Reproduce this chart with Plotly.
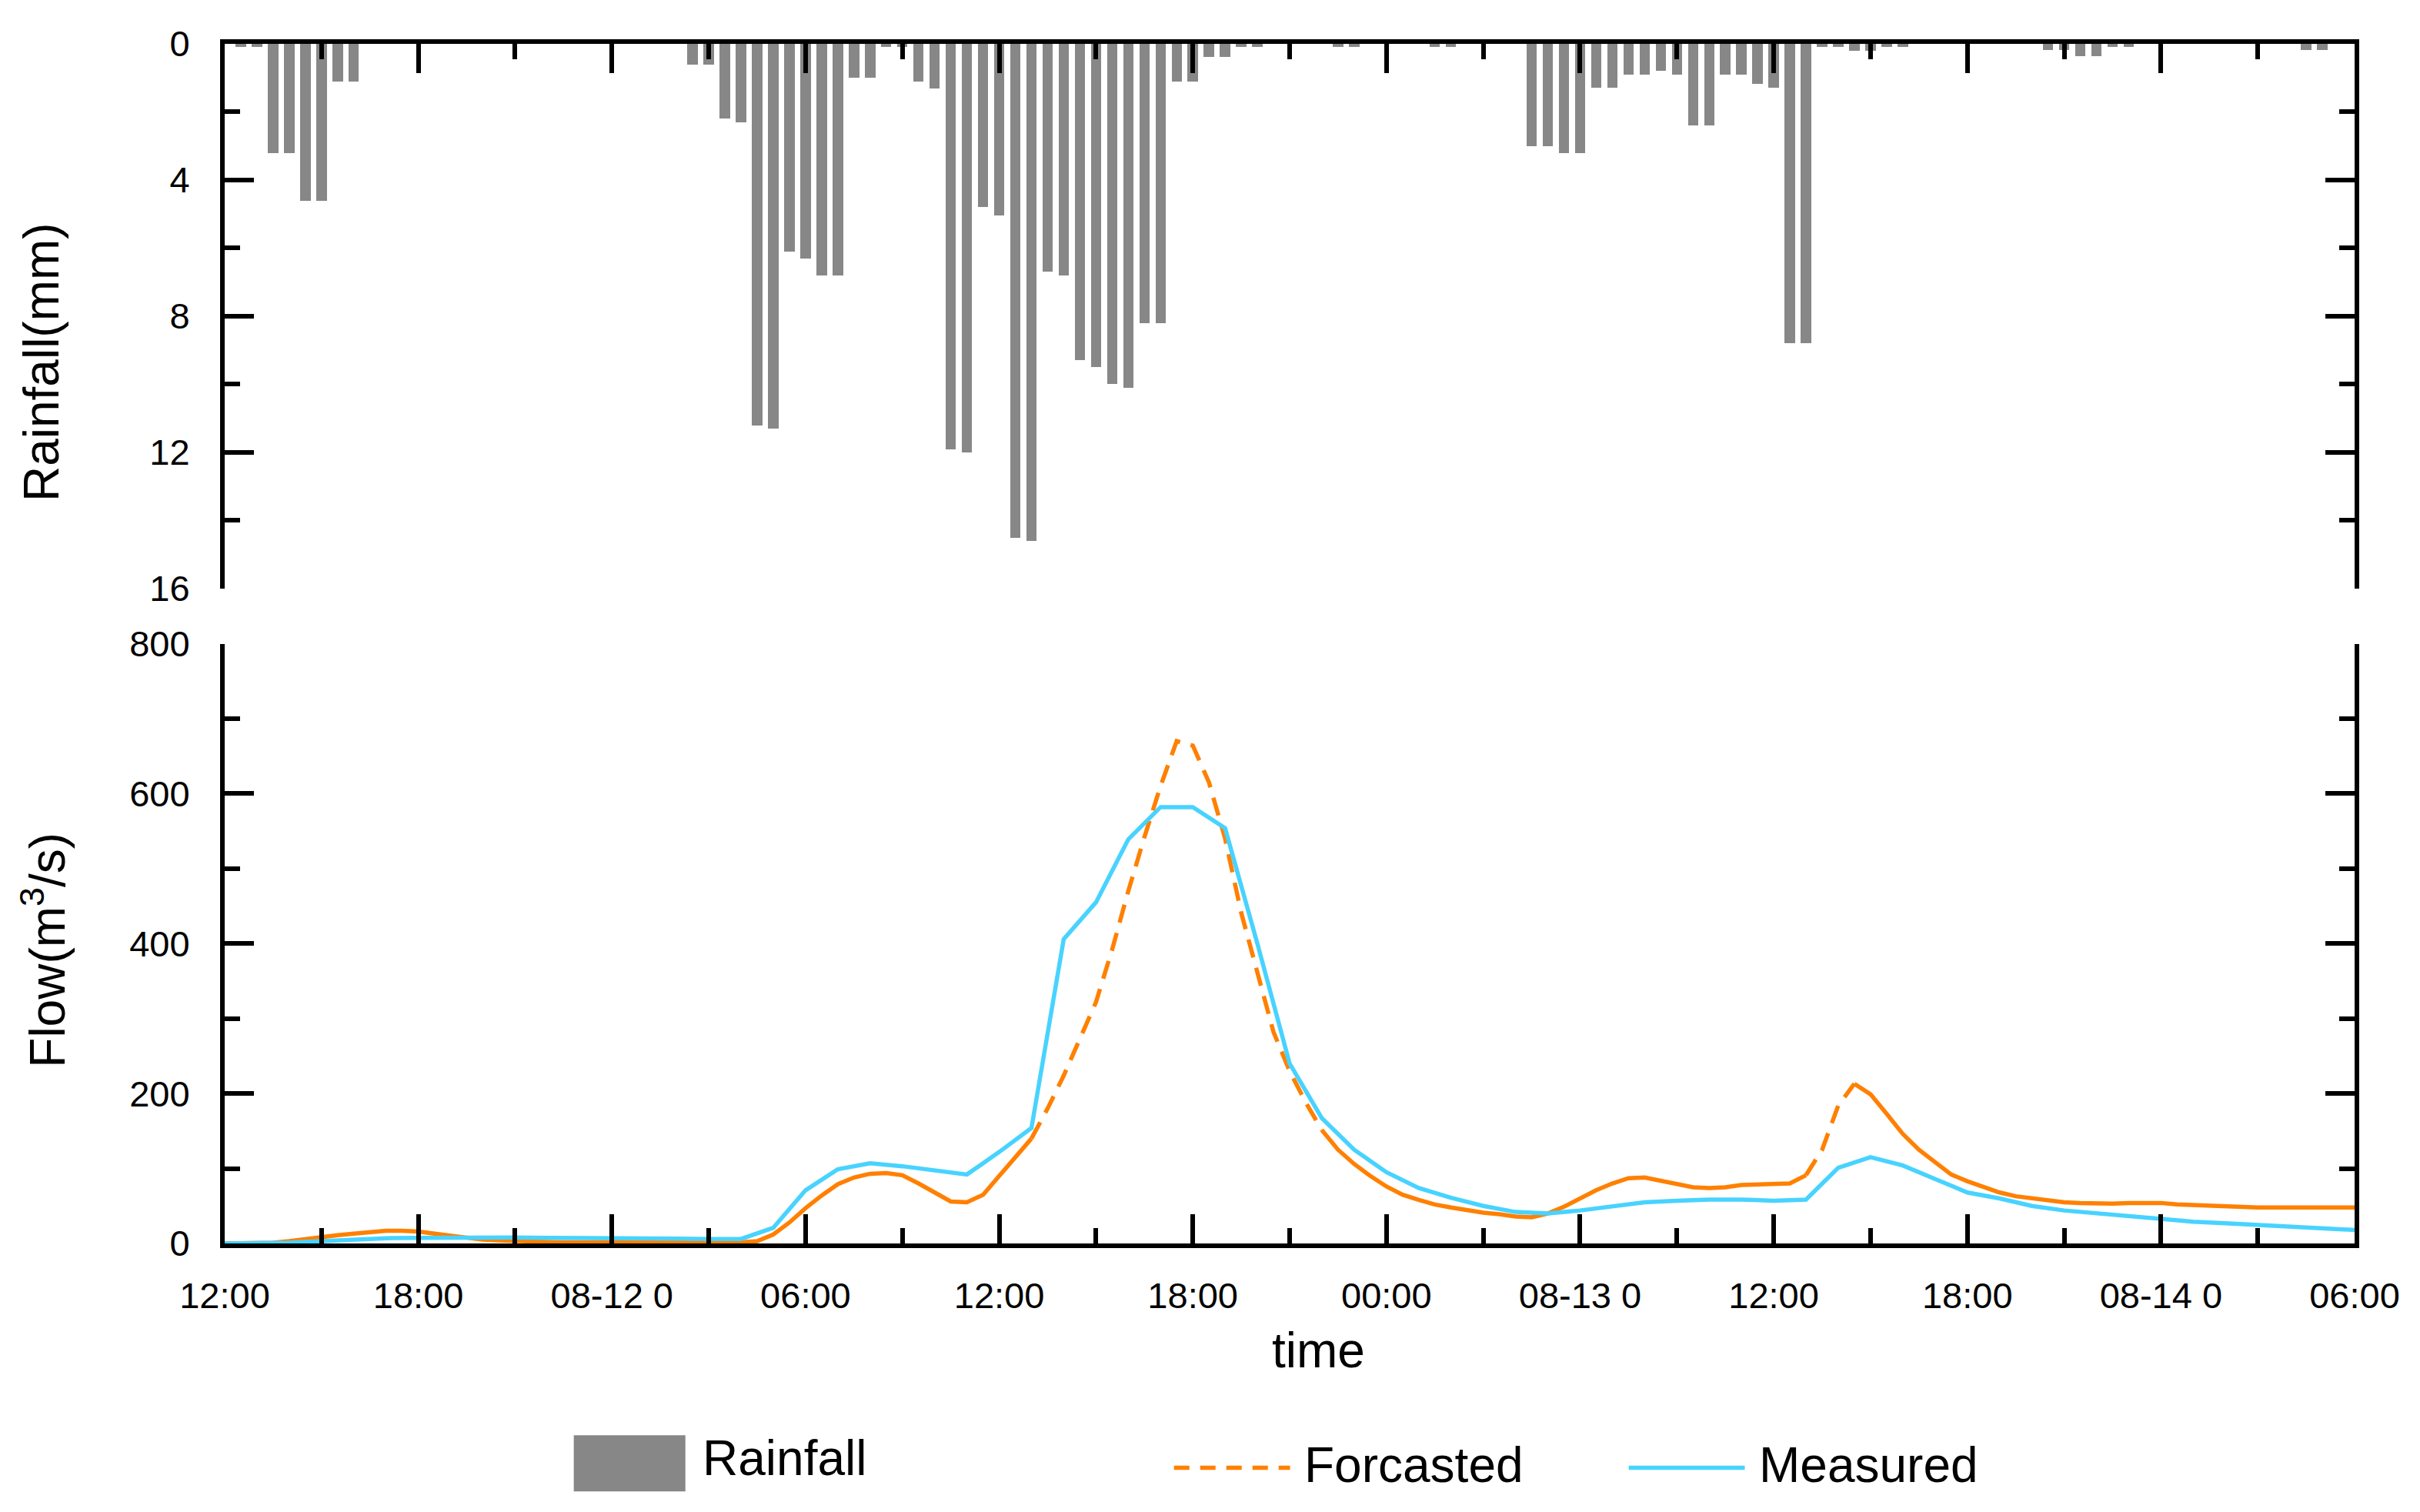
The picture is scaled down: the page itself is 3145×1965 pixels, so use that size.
import numpy as np
import pandas as pd
import plotly.graph_objects as go

# half-hourly rainfall (mm), 08-11 12:30 ... 08-14 06:00 (one row = 6 hours)
rain_mm = [
    0.1, 0.1, 3.2, 3.2, 4.6, 4.6, 1.1, 1.1, 0, 0, 0, 0,
    0, 0, 0, 0, 0, 0, 0, 0, 0, 0, 0, 0,
    0, 0, 0, 0, 0.6, 0.6, 2.2, 2.3, 11.2, 11.3, 6.1, 6.3,
    6.8, 6.8, 1.0, 1.0, 0.1, 0.1, 1.1, 1.3, 11.9, 12.0, 4.8, 5.05,
    14.5, 14.6, 6.7, 6.8, 9.3, 9.5, 10.0, 10.1, 8.2, 8.2, 1.1, 1.1,
    0.38, 0.38, 0.1, 0.1, 0, 0, 0, 0, 0.1, 0.1, 0, 0,
    0, 0, 0.1, 0.1, 0, 0, 0, 0, 3.0, 3.0, 3.2, 3.2,
    1.28, 1.28, 0.9, 0.9, 0.8, 0.9, 2.4, 2.4, 0.9, 0.9, 1.18, 1.29,
    8.8, 8.8, 0.1, 0.1, 0.2, 0.2, 0.1, 0.1, 0, 0, 0, 0,
    0, 0, 0, 0, 0.17, 0.17, 0.37, 0.37, 0.09, 0.09, 0, 0,
    0, 0, 0, 0, 0, 0, 0, 0, 0.17, 0.17, 0, 0,
]
rain_time = pd.date_range('2019-08-11 12:30', periods=len(rain_mm), freq='30min')

# forecasted flow (m3/s), half-hourly from 08-11 12:00
forecast_flow = [
    0, 0, 0, 1, 3, 6, 9, 11, 13, 15, 17, 17,
    16, 13, 10, 7, 5, 4, 3, 2.5, 2, 1.5, 1.5, 1.5,
    1.5, 1.5, 1.5, 1.5, 1.5, 1.5, 1.5, 1.5, 1.5, 3, 12, 28,
    47, 64, 79, 88, 93, 94, 91, 80, 68, 56, 55, 65,
    90, 115, 140, 180, 224, 272, 322, 392, 470, 542, 610, 670,
    664, 615, 540, 441, 361, 282, 230, 188, 151, 125, 106, 90,
    76, 65, 58, 52, 48, 44, 41, 39, 36, 35, 40, 49,
    60, 71, 80, 87, 88, 84, 79, 75, 74, 75, 78, 79,
    79, 80, 91, 125, 184, 213, 199, 173, 146, 125, 108, 92,
    83, 75, 68, 63, 60, 57, 55, 54, 53, 53, 54, 54,
    54, 52, 51, 50, 49, 48, 48, 48, 48, 48, 48, 48,
    48,
]
forecast_time = pd.date_range('2019-08-11 12:00', periods=len(forecast_flow), freq='30min')

# measured flow (m3/s), hourly from 08-11 12:00
measured_flow = [
    0, 0, 1, 3, 5, 7, 7.5, 8, 8, 8, 7.5, 7.5,
    7, 6.5, 6.5, 6, 6, 21, 71, 99, 107, 103, 97, 92,
    122, 154, 406, 455, 539, 582, 582, 554, 400, 240, 167, 125,
    95, 74, 61, 50, 42, 40, 44, 49, 55, 57, 58.5, 58.5,
    57, 58.5, 101, 115, 104, 86, 68, 60, 50, 44, 40, 36,
    32, 29, 27, 25, 22, 20, 18,
]
measured_time = pd.date_range('2019-08-11 12:00', periods=len(measured_flow), freq='h')

# spans where the forecast line shows up dashed in the original
dash_spans = [('2019-08-12 13:00', '2019-08-12 22:00'),
              ('2019-08-13 13:00', '2019-08-13 14:30')]

tick_labels = ['12:00', '18:00', '08-12 0', '06:00', '12:00', '18:00',
               '00:00', '08-13 0', '12:00', '18:00', '08-14 0', '06:00']
tick_times = pd.date_range('2019-08-11 12:00', periods=len(tick_labels), freq='6h')

fc = pd.Series(forecast_flow, index=forecast_time, dtype=float)
inside = pd.Series(False, index=fc.index)
inside_closed = pd.Series(False, index=fc.index)
for a, b in dash_spans:
    a, b = pd.Timestamp(a), pd.Timestamp(b)
    inside |= (fc.index > a) & (fc.index < b)
    inside_closed |= (fc.index >= a) & (fc.index <= b)
fc_solid = fc.where(~inside)
fc_dash = fc.where(inside_closed)

ORANGE = '#FF8000'
BLUE = '#48D3FF'
GREY = '#878787'
FONT = 'Liberation Sans, Arial, sans-serif'
LW = 5.5

data = [
    go.Bar(x=rain_time, y=rain_mm, xaxis='x2', yaxis='y2', name='Rainfall',
           width=0.32 * 3600 * 1000, marker=dict(color=GREY, line=dict(width=0)),
           showlegend=False),
    go.Scatter(x=fc_solid.index, y=fc_solid.values, mode='lines', name='Forcasted',
               line=dict(color=ORANGE, width=LW), connectgaps=False, showlegend=False),
    go.Scatter(x=fc_dash.index, y=fc_dash.values, mode='lines', name='Forcasted',
               line=dict(color=ORANGE, width=LW, dash='24px,14px'),
               connectgaps=False, showlegend=False),
    go.Scatter(x=measured_time, y=measured_flow, mode='lines', name='Measured',
               line=dict(color=BLUE, width=LW), showlegend=False),
]

tickfont = dict(family=FONT, size=47, color='black')
axis_style = dict(showline=True, linewidth=6, linecolor='black', showgrid=False,
                  zeroline=False, ticks='inside', ticklen=38, tickwidth=6,
                  tickcolor='black', tickfont=tickfont)
x_range = [tick_times[0], tick_times[-1]]
x_minor = dict(ticks='inside', ticklen=20, tickwidth=6, tickcolor='black',
               dtick=3 * 3600 * 1000, tick0=tick_times[0])

layout = go.Layout(
    width=3145, height=1965,
    margin=dict(l=292, r=85, t=57, b=349),
    paper_bgcolor='white', plot_bgcolor='white',
    showlegend=False,
    xaxis=dict(domain=[0, 1], anchor='y', range=x_range, tickmode='array',
               tickvals=tick_times, ticktext=tick_labels, minor=x_minor,
               ticklabelstandoff=22, **axis_style),
    xaxis2=dict(domain=[0, 1], anchor='y2', side='top', matches='x', range=x_range,
                tickmode='array', tickvals=tick_times, showticklabels=False,
                minor=x_minor, **axis_style),
    yaxis=dict(domain=[0, 0.5], anchor='x', range=[0, 800], dtick=200,
               mirror='ticks', ticklabelstandoff=30,
               minor=dict(ticks='inside', ticklen=20, tickwidth=6,
                          tickcolor='black', dtick=100),
               **axis_style),
    yaxis2=dict(domain=[0.5459, 1], anchor='x2', range=[16, 0], dtick=4,
                mirror='ticks', ticklabelstandoff=30,
                minor=dict(ticks='inside', ticklen=20, tickwidth=6,
                           tickcolor='black', dtick=2),
                **axis_style),
    bargap=0,
)

title_font = dict(family=FONT, size=64, color='black')
annotations = [
    dict(text='Rainfall(mm)', x=-0.086, y=0.735, textangle=-90),
    dict(text='Flow(m<sup>3</sup>/s)', x=-0.085, y=0.2444, textangle=-90),
    dict(text='time', x=0.5136, y=-0.089),
    dict(text='Rainfall', x=0.2235, y=-0.179, xanchor='left'),
    dict(text='Forcasted', x=0.506, y=-0.185, xanchor='left'),
    dict(text='Measured', x=0.7195, y=-0.185, xanchor='left'),
]
for a in annotations:
    a.update(xref='paper', yref='paper', showarrow=False, font=title_font)
    a.setdefault('xanchor', 'center')
    a.setdefault('yanchor', 'middle')
layout.annotations = annotations

# legend glyphs
layout.shapes = [
    dict(type='rect', xref='paper', yref='paper', x0=0.1639, x1=0.2163,
         y0=-0.2067, y1=-0.1598, fillcolor=GREY, line=dict(width=0)),
    dict(type='line', xref='paper', yref='paper', x0=0.4457, x1=0.5002,
         y0=-0.187, y1=-0.187, line=dict(color=ORANGE, width=LW, dash='20px,14px')),
    dict(type='line', xref='paper', yref='paper', x0=0.6592, x1=0.7137,
         y0=-0.187, y1=-0.187, line=dict(color=BLUE, width=LW)),
]

fig = go.Figure(data=data, layout=layout)
fig.write_html('out.html', config={'displayModeBar': False})

# drop the browser's default page margin so the figure sits at 0,0
with open('out.html', encoding='utf-8') as f:
    page = f.read()
page = page.replace('<body>', '<body style="margin:0">', 1)
with open('out.html', 'w', encoding='utf-8') as f:
    f.write(page)
